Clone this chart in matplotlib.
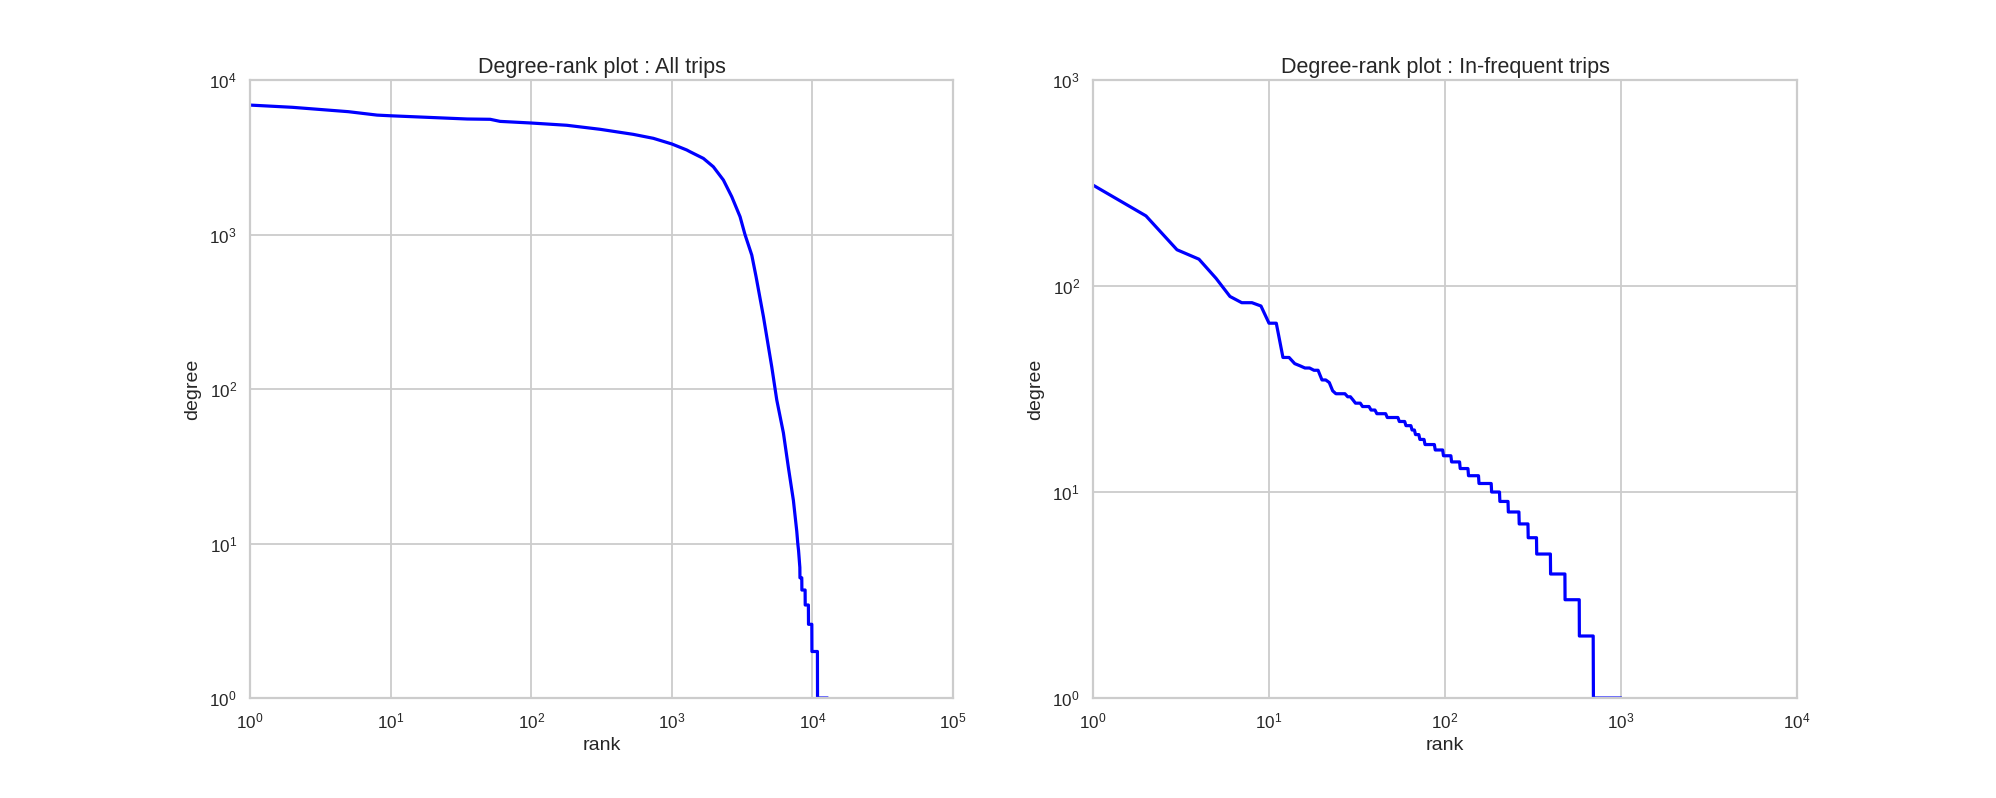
import numpy as np
import matplotlib
matplotlib.use("Agg")
import matplotlib.pyplot as plt

allRank = [1, 2, 5, 8, 10, 35, 51, 60, 100, 179, 308, 532, 738, 1000, 1276,
           1346, 1675, 1972, 2324, 2665, 3054, 3310, 3700, 3970, 4478, 5133,
           5570, 6210, 6740, 7315, 7730, 7860, 7960, 8040, 8130]
allDegree = [6885, 6660, 6240, 5930, 5870, 5595, 5570, 5400, 5270, 5095, 4800,
             4450, 4195, 3855, 3525, 3435, 3110, 2745, 2253, 1758, 1304, 1000,
             736, 533, 294, 139, 85, 52, 31, 19, 12, 10, 9, 8, 7]
# All trips: low-degree tail (degree level, last rank holding it)
allTailDegree = [6, 5, 4, 3, 2, 1]
allTailLastRank = [8390, 8860, 9350, 9890, 10840, 12640]

# In-frequent trips: degree levels and the last rank holding each level
rareDegree = [309, 219, 150, 135, 109, 89, 83, 80, 66, 45, 42, 41, 40, 39, 35,
              34, 31, 30, 29, 28, 27, 26, 25, 24, 23, 22, 21, 20, 19, 18, 17,
              16, 15, 14, 13, 12, 11, 10, 9, 8, 7, 6, 5, 4, 3, 2, 1]
rareLastRank = [1, 2, 3, 4, 5, 6, 8, 9, 11, 13, 14, 15, 17, 19, 21, 22, 23, 27,
                29, 30, 33, 37, 40, 46, 54, 59, 64, 67, 71, 76, 87, 97, 108,
                121, 135, 155, 183, 204, 228, 263, 296, 331, 397, 480, 579,
                695, 990]

titles = ["Degree-rank plot : All trips", "Degree-rank plot : In-frequent trips"]
xlims = [(1, 1e5), (1, 1e4)]
ylims = [(1, 1e4), (1, 1e3)]


def ExpandLevels(levels, lastRanks, firstRank):
    counts = np.diff(np.concatenate([[firstRank - 1], lastRanks]))
    seq = np.repeat(levels, counts)
    ranks = np.arange(firstRank, firstRank + len(seq))
    return ranks, seq


tailRank, tailDeg = ExpandLevels(allTailDegree, allTailLastRank, allRank[-1] + 1)
leftX = np.concatenate([allRank, tailRank])
leftY = np.concatenate([allDegree, tailDeg])
rightX, rightY = ExpandLevels(rareDegree, rareLastRank, 1)

plt.rcParams['font.family'] = ['Liberation Sans', 'DejaVu Sans']
plt.rcParams['mathtext.fontset'] = 'custom'
plt.rcParams['mathtext.rm'] = 'Liberation Sans'
plt.rcParams['mathtext.it'] = 'Liberation Sans'
textColor = "#262626"
lineGrey = "#cccccc"

fig = plt.figure(figsize=(19.96, 7.98), dpi=100)
axLeft = fig.add_axes([0.1253, 0.1253, 0.3522, 0.7744])
axRight = fig.add_axes([0.5476, 0.1253, 0.3527, 0.7744])

for i, (ax, x, y) in enumerate([(axLeft, leftX, leftY), (axRight, rightX, rightY)]):
    ax.loglog(x, y, "b-", linewidth=2.3)
    ax.set_xlim(*xlims[i])
    ax.set_ylim(*ylims[i])
    ax.set_title(titles[i], fontsize=15.5, color=textColor, pad=5)
    ax.set_xlabel("rank", fontsize=14, color=textColor, labelpad=4)
    ax.set_ylabel("degree", fontsize=14, color=textColor, labelpad=6)
    ax.grid(True, which="major", color=lineGrey, linewidth=1.3)
    ax.minorticks_off()
    ax.tick_params(which="both", length=0, pad=9.5, labelsize=12.3,
                   labelcolor=textColor)
    for spine in ax.spines.values():
        spine.set_color(lineGrey)
        spine.set_linewidth(1.6)
    ax.set_axisbelow(True)

fig.savefig("out.png", dpi=100, facecolor="white")
